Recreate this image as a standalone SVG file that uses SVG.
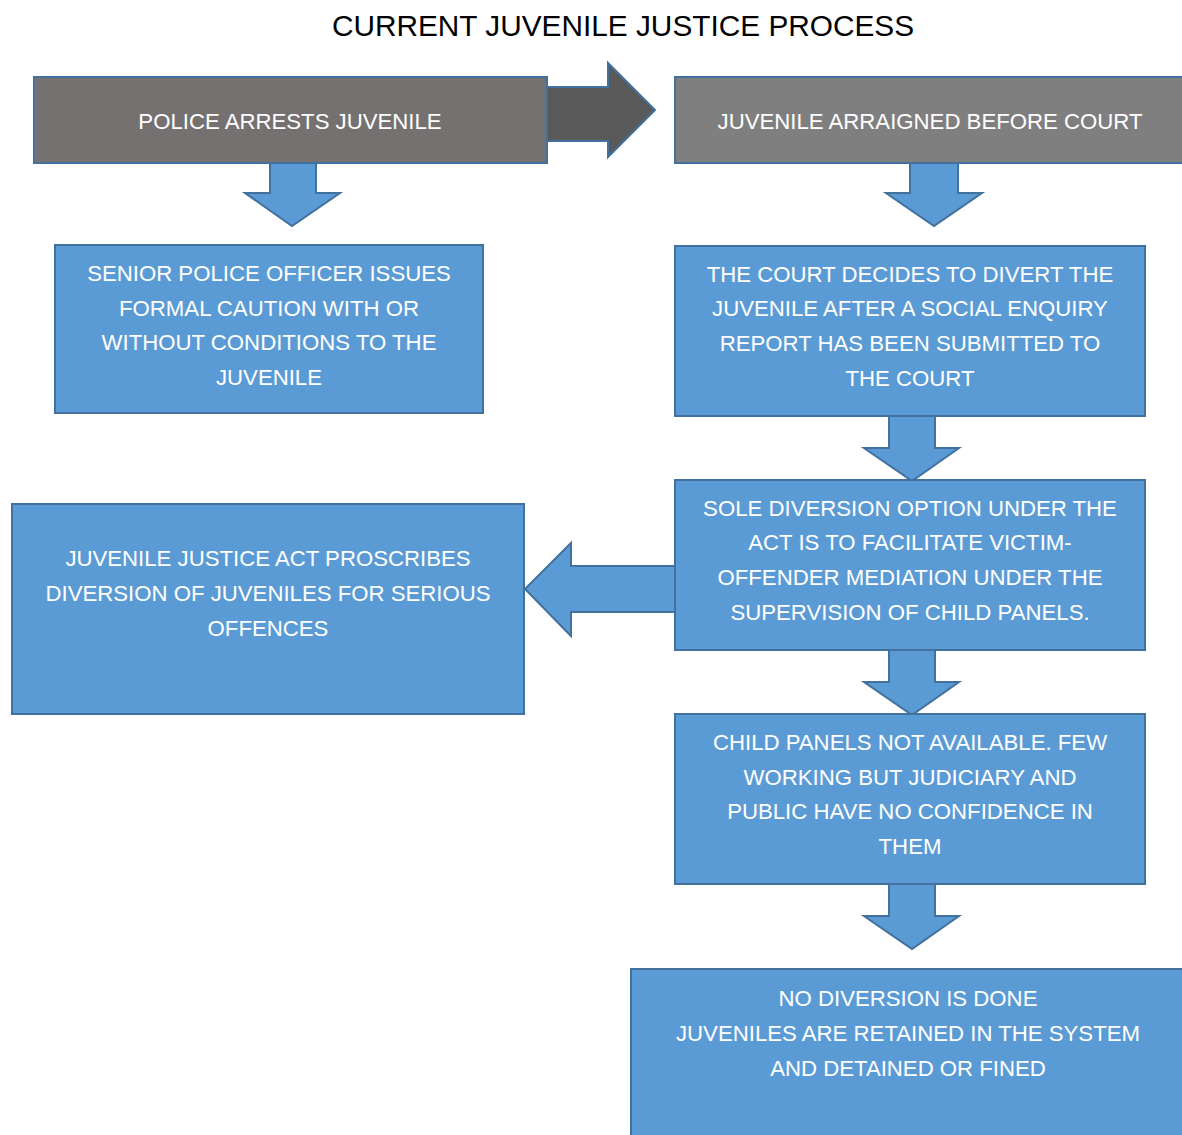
<svg xmlns="http://www.w3.org/2000/svg" width="1182" height="1135" viewBox="0 0 1182 1135">
<style>
.box{fill:#5B9BD5;stroke:#41719C;stroke-width:2}
.arr{fill:#5B9BD5;stroke:#41719C;stroke-width:2;stroke-linejoin:miter}
.t{font-family:"Liberation Sans",Arial,sans-serif;font-size:22.2px;fill:#FFFFFF;text-anchor:middle}
.title{font-family:"Liberation Sans",Arial,sans-serif;font-size:29.8px;fill:#000000;text-anchor:middle}
</style>
<rect width="1182" height="1135" fill="#FFFFFF"/>
<text class="title" x="623" y="36">CURRENT JUVENILE JUSTICE PROCESS</text>
<g id="connectors">
<polygon points="547,87 608,87 608,63 655,110 608,157 608,141 547,141" fill="#595959" stroke="#41719C" stroke-width="2"/>
<polygon class="arr" points="270,162 316,162 316,193 340,193 292,226 245,193 270,193"/>
<polygon class="arr" points="910,162 958,162 958,193 982,193 934,226 886,193 910,193"/>
<polygon class="arr" points="889,416 935,416 935,448 959,448 912,481 864,448 889,448"/>
<polygon class="arr" points="889,650 935,650 935,682 959,682 912,715 864,682 889,682"/>
<polygon class="arr" points="889,884 935,884 935,916 959,916 912,949 864,916 889,916"/>
<polygon class="arr" points="675,566 571,566 571,543 525,589 571,636 571,612 675,612"/>
</g>
<g id="police">
<rect x="34" y="77" width="513" height="86" fill="#767171" stroke="#41719C" stroke-width="2"/>
<text class="t" x="290" y="129">POLICE ARRESTS JUVENILE</text>
</g>
<g id="arraigned">
<rect x="675" y="77" width="520" height="86" fill="#7F7F7F" stroke="#41719C" stroke-width="2"/>
<text class="t" x="930" y="129">JUVENILE ARRAIGNED BEFORE COURT</text>
</g>
<g id="caution">
<rect class="box" x="55" y="245" width="428" height="168"/>
<text class="t" x="269" y="281">SENIOR POLICE OFFICER ISSUES</text>
<text class="t" x="269" y="316">FORMAL CAUTION WITH OR</text>
<text class="t" x="269" y="350">WITHOUT CONDITIONS TO THE</text>
<text class="t" x="269" y="385">JUVENILE</text>
</g>
<g id="court">
<rect class="box" x="675" y="246" width="470" height="170"/>
<text class="t" x="910" y="282">THE COURT DECIDES TO DIVERT THE</text>
<text class="t" x="910" y="316">JUVENILE AFTER A SOCIAL ENQUIRY</text>
<text class="t" x="910" y="351">REPORT HAS BEEN SUBMITTED TO</text>
<text class="t" x="910" y="386">THE COURT</text>
</g>
<g id="sole">
<rect class="box" x="675" y="480" width="470" height="170"/>
<text class="t" x="910" y="516">SOLE DIVERSION OPTION UNDER THE</text>
<text class="t" x="910" y="550">ACT IS TO FACILITATE VICTIM-</text>
<text class="t" x="910" y="585">OFFENDER MEDIATION UNDER THE</text>
<text class="t" x="910" y="620">SUPERVISION OF CHILD PANELS.</text>
</g>
<g id="act">
<rect class="box" x="12" y="504" width="512" height="210"/>
<text class="t" x="268" y="566">JUVENILE JUSTICE ACT PROSCRIBES</text>
<text class="t" x="268" y="601">DIVERSION OF JUVENILES FOR SERIOUS</text>
<text class="t" x="268" y="636">OFFENCES</text>
</g>
<g id="panels">
<rect class="box" x="675" y="714" width="470" height="170"/>
<text class="t" x="910" y="750">CHILD PANELS NOT AVAILABLE. FEW</text>
<text class="t" x="910" y="785">WORKING BUT JUDICIARY AND</text>
<text class="t" x="910" y="819">PUBLIC HAVE NO CONFIDENCE IN</text>
<text class="t" x="910" y="854">THEM</text>
</g>
<g id="nodiversion">
<rect class="box" x="631" y="969" width="570" height="180"/>
<text class="t" x="908" y="1006">NO DIVERSION IS DONE</text>
<text class="t" x="908" y="1041">JUVENILES ARE RETAINED IN THE SYSTEM</text>
<text class="t" x="908" y="1076">AND DETAINED OR FINED</text>
</g>
</svg>
